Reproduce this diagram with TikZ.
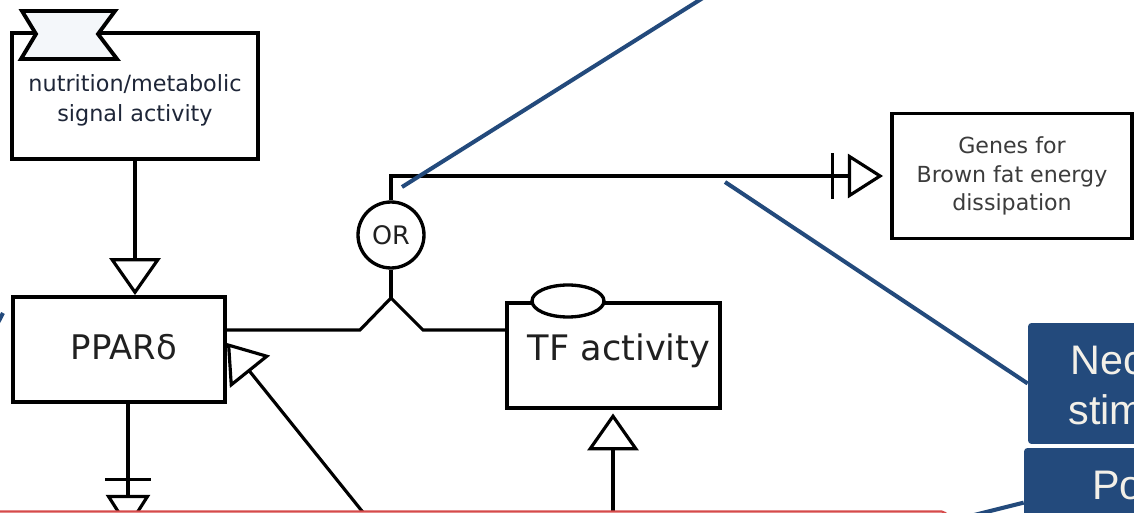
\documentclass[tikz,border=0pt]{standalone}
\usepackage{fontspec}
\setmainfont{DejaVu Sans}
\newfontfamily\arialf{Liberation Sans}
\usetikzlibrary{arrows.meta,shapes.geometric,calc}
\definecolor{callblue}{HTML}{234A7C}
\definecolor{calltext}{HTML}{F3F0E8}
\definecolor{redline}{HTML}{D64B4B}
\definecolor{ribbonfill}{HTML}{F4F7FA}
\definecolor{navytext}{HTML}{1E2638}
\definecolor{graytext}{HTML}{3C3C3C}
\definecolor{darktext}{HTML}{202020}
\begin{document}
\begin{tikzpicture}[x=0.02cm,y=-0.02cm,
  box/.style={draw=black, line width=2.2pt, fill=white, rectangle, inner sep=0pt},
  conn/.style={draw=black, line width=1.8pt},
  stimtip/.style={-{Triangle[length=21pt,width=29pt,fill=white]}},
  necstim/.style={-{Bar[width=26pt,sep=8pt] Triangle[length=20pt,width=25pt,fill=white]}},
  callout/.style={draw=callblue, line width=2.3pt},
  callbox/.style={fill=callblue, rounded corners=2pt, rectangle, inner sep=0pt},
  calltxt/.style={text=calltext, font=\arialf\fontsize{23.5}{28}\selectfont, inner sep=0pt, anchor=base west},
  lbl/.style={inner sep=0pt, text=darktext},
  ]
\useasboundingbox (0,0) rectangle (1134,513);
\clip (0,0) rectangle (1134,513);
\fill[white] (0,0) rectangle (1134,513);

% nodes
\node[box, minimum width=4.92cm, minimum height=2.52cm] (nut) at (135,96) {};
\draw[fill=ribbonfill, line width=2.2pt] (22,11) -- (115,11) -- (98,34) -- (117,59) -- (21,59) -- (36,34) -- cycle;
\node[lbl, text=navytext, align=center, font=\fontsize{12.7}{17}\selectfont] (nutt) at (135,100) {nutrition/metabolic\\signal activity};

\node[box, minimum width=4.24cm, minimum height=2.1cm] (ppar) at (119,349.5) {};
\node[lbl, font=\fontsize{19.3}{23}\selectfont] (ppart) at (124,347) {PPARδ};

\node[box, minimum width=4.26cm, minimum height=2.1cm] (tf) at (613.5,355.5) {};
\node[draw=black, fill=white, ellipse, line width=1.9pt, inner sep=0pt, minimum width=1.44cm, minimum height=0.64cm] (tfe) at (568,301) {};
\node[lbl, font=\fontsize{20}{24}\selectfont] (tft) at (619,351) {TF activity};

\node[draw=black, fill=white, circle, line width=1.9pt, inner sep=0pt, minimum size=1.32cm, text=darktext, font=\fontsize{14.5}{17}\selectfont] (or) at (391,235) {OR};

\node[box, minimum width=4.8cm, minimum height=2.5cm, text=graytext, align=center, font=\fontsize{12.6}{16.4}\selectfont] (genes) at (1012,176) {Genes for\\Brown fat energy\\dissipation};

% connectors
\coordinate (fk) at (0,330);
\coordinate (junc) at (391,298);
\draw[conn] (ppar.east |- fk) -- (360,330) -- (junc) -- (423,330) -- (tf.west |- fk);
\draw[conn] (junc) -- (or.south);
\draw[conn, necstim, shorten >=4pt] (or.north) |- (genes.west);
\draw[conn, stimtip] (nut.south) -- (nut.south |- ppar.north);
\coordinate (pout) at (128,530);
\draw[conn, necstim] (pout |- ppar.south) -- (pout);
\coordinate (tfin) at (613,545);
\draw[conn, stimtip, shorten >=2pt] (tfin) -- (tfin |- tf.south);
\coordinate (dstart) at (378,531);
\coordinate (dtip) at (0,343);
\draw[conn, stimtip] (dstart) -- (ppar.east |- dtip);

% red frame at the bottom
\draw[draw=redline, line width=1.2pt, fill=white, rounded corners=3pt] (-10,511.5) rectangle (947,570);

% callout boxes
\node[callbox, minimum width=2.6cm, minimum height=2.42cm] (nec) at (1093,383.5) {};
\node[callbox, minimum width=2.7cm, minimum height=2cm] (po) at (1091.5,498) {};
\node[calltxt] (nect1) at (1070,375) {Nec};
\node[calltxt] (nect2) at (1068,425) {stim};
\node[calltxt] (pot) at (1092,500) {Po};

% callout connectors
\coordinate (c1) at (725,182);
\draw[callout] (c1) -- (nec.west);
\coordinate (c2a) at (706,-4);
\coordinate (c2b) at (402,187);
\draw[callout] (c2a) -- (c2b);
\coordinate (c3) at (930,526);
\draw[callout] ($(po.north west)+(0,55)$) -- (c3);
\coordinate (c4a) at (-12,342);
\coordinate (c4b) at (3,313);
\draw[callout] (c4a) -- (c4b);
\end{tikzpicture}
\end{document}
